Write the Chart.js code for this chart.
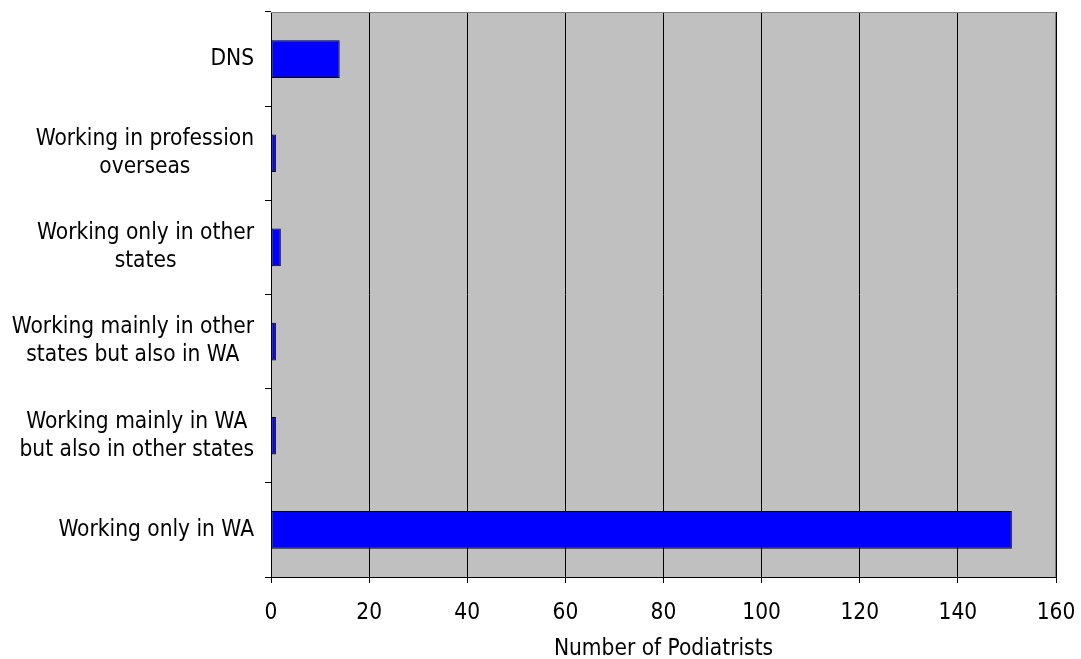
<!DOCTYPE html>
<html>
<head>
<meta charset="utf-8">
<title>Podiatrists by work location</title>
<script src="https://cdn.jsdelivr.net/npm/chart.js@4/dist/chart.umd.min.js"></script>
<style>
  html, body { margin: 0; padding: 0; background: #fff; }
  #wrap { width: 1081px; height: 659px; }
</style>
</head>
<body>
<div id="wrap"><canvas id="chart" width="1081" height="659"></canvas></div>
<script>
// categories, top to bottom as drawn
const categories = [
  'DNS',
  ['Working in profession', 'overseas'],
  ['Working only in other', 'states'],
  ['Working mainly in other', 'states but also in WA'],
  ['Working mainly in WA', 'but also in other states'],
  'Working only in WA'
];
const podiatrists = [14, 1, 2, 1, 1, 151];
const xTicks = [0, 20, 40, 60, 80, 100, 120, 140, 160];
const xTitle = 'Number of Podiatrists';

const FONT = "'DejaVu Sans Condensed', 'DejaVu Sans', sans-serif";
const LABEL_SIZE = 22.5;
const LINE_GAP = 28;

// grey plot background plus the grey top/right frame
const plotFrame = {
  id: 'plotFrame',
  beforeDraw(chart) {
    const {ctx, chartArea: a} = chart;
    ctx.save();
    ctx.fillStyle = '#C0C0C0';
    ctx.fillRect(a.left, a.top, a.right - a.left, a.bottom - a.top);
    ctx.restore();
  },
  afterDraw(chart) {
    const {ctx, chartArea: a} = chart;
    ctx.save();
    ctx.strokeStyle = '#808080';
    ctx.lineWidth = 1;
    ctx.beginPath();
    ctx.moveTo(a.left, a.top + 0.5);
    ctx.lineTo(a.right - 0.5, a.top + 0.5);
    ctx.lineTo(a.right - 0.5, a.bottom);
    ctx.stroke();
    ctx.restore();
  }
};

// category labels: block right-aligned to the axis, lines centred within the block
const categoryLabels = {
  id: 'categoryLabels',
  afterDraw(chart) {
    const {ctx} = chart;
    const y = chart.scales.y;
    const right = y.right - 6 - 11;
    ctx.save();
    ctx.font = LABEL_SIZE + 'px ' + FONT;
    ctx.fillStyle = '#000000';
    ctx.textAlign = 'center';
    ctx.textBaseline = 'middle';
    chart.data.labels.forEach((lab, i) => {
      const lines = Array.isArray(lab) ? lab : [lab];
      const w = Math.max(...lines.map(s => ctx.measureText(s).width));
      const cx = right - w / 2;
      const cy = y.getPixelForValue(i);
      lines.forEach((s, j) => {
        ctx.fillText(s, cx, cy + (j - (lines.length - 1) / 2) * LINE_GAP);
      });
    });
    ctx.restore();
  }
};

new Chart(document.getElementById('chart'), {
  type: 'bar',
  data: {
    labels: categories,
    datasets: [{
      data: podiatrists,
      backgroundColor: '#0000FF',
      borderColor: '#000000',
      borderWidth: 1,
      borderSkipped: false,
      barPercentage: 0.4,
      categoryPercentage: 1
    }]
  },
  options: {
    indexAxis: 'y',
    responsive: false,
    animation: false,
    layout: { padding: { top: 12, right: 25, left: 0, bottom: 0 } },
    plugins: {
      legend: { display: false },
      tooltip: { enabled: false }
    },
    scales: {
      x: {
        min: xTicks[0],
        max: xTicks[xTicks.length - 1],
        afterBuildTicks(axis) { axis.ticks = xTicks.map(v => ({value: v})); },
        afterFit(axis) {
          axis.height = 82;
          axis.paddingLeft = 0;
          axis.paddingRight = 0;
        },
        grid: { color: '#000000', lineWidth: 1, tickLength: 6, drawTicks: true },
        border: { color: '#000000', width: 1 },
        ticks: { color: '#000000', font: { family: FONT, size: LABEL_SIZE }, padding: 17, maxRotation: 0 },
        title: {
          display: true,
          text: xTitle,
          color: '#000000',
          font: { family: FONT, size: LABEL_SIZE, lineHeight: 0.85 },
          padding: { top: 4, bottom: 0 }
        }
      },
      y: {
        afterFit(axis) {
          axis.width = 271;
          axis.paddingTop = 0;
          axis.paddingBottom = 0;
        },
        grid: { offset: true, drawOnChartArea: false, color: '#000000', tickLength: 6 },
        border: { color: '#000000', width: 1 },
        ticks: { display: false, autoSkip: false }
      }
    }
  },
  plugins: [plotFrame, categoryLabels]
});
</script>
</body>
</html>
